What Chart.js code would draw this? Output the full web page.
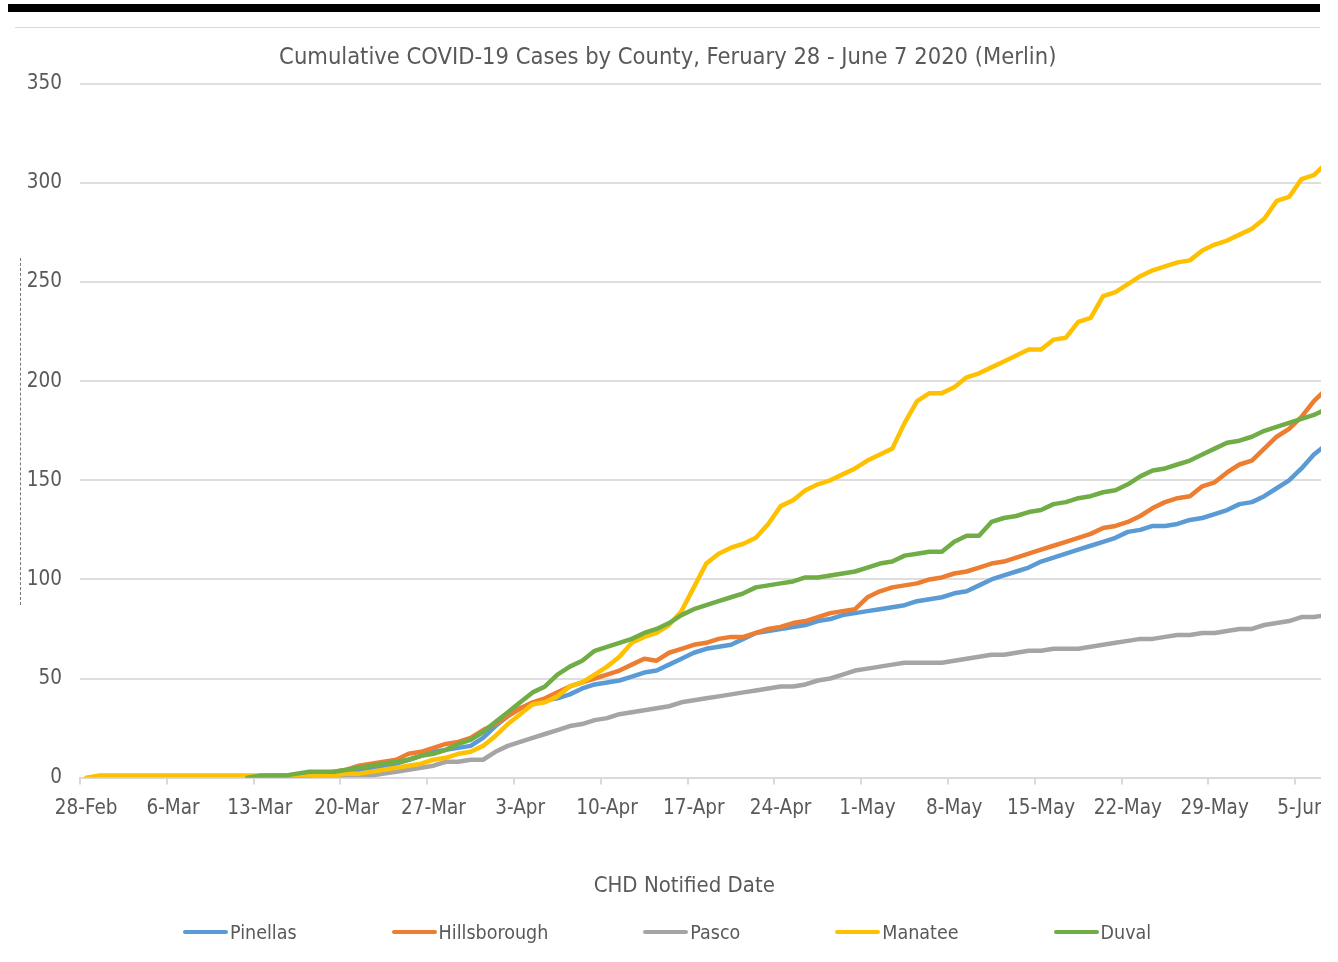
<!DOCTYPE html>
<html>
<head>
<meta charset="utf-8">
<script src="https://cdn.jsdelivr.net/npm/chart.js@4.4.1/dist/chart.umd.min.js"></script>
<style>
  html, body { margin: 0; padding: 0; background: #fff; width: 1338px; height: 962px; overflow: hidden; }
  #clip { position: absolute; left: 0; top: 0; width: 1321px; height: 962px; overflow: hidden; }
  #bar { position: absolute; left: 8px; top: 4px; width: 1312px; height: 8px; background: #000; }
  #border { position: absolute; left: 15px; top: 27px; width: 1305px; height: 1px; background: #d9d9d9; }
  #dash { position: absolute; left: 20px; top: 258px; height: 347px; border-left: 1px dashed #777; }
  #legend { position: absolute; left: 183px; top: 917px; height: 30px; display: flex; align-items: center;
            font-family: 'Liberation Sans Narrow', 'DejaVu Sans Condensed', 'Arial Narrow', sans-serif; font-size: 19.5px; color: #595959; }
  #legend .item { display: flex; align-items: center; margin-right: 95px; }
  #legend .sw { width: 45px; height: 4px; border-radius: 2px; margin-right: 2px; }
</style>
</head>
<body>
<div id="clip">
  <canvas id="c" width="1338" height="962"></canvas>
</div>
<div id="bar"></div>
<div id="border"></div>
<div id="dash"></div>
<div id="legend"></div>
<script>
const FONT = "'Liberation Sans Narrow', 'DejaVu Sans Condensed', 'Arial Narrow', sans-serif";
const TITLE = "Cumulative COVID-19 Cases by County, Feruary 28 - June 7 2020 (Merlin)";
const X_TITLE = "CHD Notified Date       ";

const dates = [
  "28-Feb","29-Feb",
  "1-Mar","2-Mar","3-Mar","4-Mar","5-Mar","6-Mar","7-Mar","8-Mar","9-Mar","10-Mar",
  "11-Mar","12-Mar","13-Mar","14-Mar","15-Mar","16-Mar","17-Mar","18-Mar","19-Mar","20-Mar",
  "21-Mar","22-Mar","23-Mar","24-Mar","25-Mar","26-Mar","27-Mar","28-Mar","29-Mar","30-Mar","31-Mar",
  "1-Apr","2-Apr","3-Apr","4-Apr","5-Apr","6-Apr","7-Apr","8-Apr","9-Apr","10-Apr",
  "11-Apr","12-Apr","13-Apr","14-Apr","15-Apr","16-Apr","17-Apr","18-Apr","19-Apr","20-Apr",
  "21-Apr","22-Apr","23-Apr","24-Apr","25-Apr","26-Apr","27-Apr","28-Apr","29-Apr","30-Apr",
  "1-May","2-May","3-May","4-May","5-May","6-May","7-May","8-May","9-May","10-May",
  "11-May","12-May","13-May","14-May","15-May","16-May","17-May","18-May","19-May","20-May",
  "21-May","22-May","23-May","24-May","25-May","26-May","27-May","28-May","29-May","30-May","31-May",
  "1-Jun","2-Jun","3-Jun","4-Jun","5-Jun","6-Jun","7-Jun"
];

const seriesNames = ["Pinellas", "Hillsborough", "Pasco", "Manatee", "Duval"];
const seriesColors = ["#5B9BD5", "#ED7D31", "#A5A5A5", "#FFC000", "#70AD47"];

const pinellas = [
  null,null,null,null,null,null,null,null,null,null,
  null,null,null,0,0,0,1,1,1,2,
  2,3,4,5,6,7,9,11,13,14,
  15,16,20,26,31,35,37,39,40,42,
  45,47,48,49,51,53,54,57,60,63,
  65,66,67,70,73,74,75,76,77,79,
  80,82,83,84,85,86,87,89,90,91,
  93,94,97,100,102,104,106,109,111,113,
  115,117,119,121,124,125,127,127,128,130,
  131,133,135,138,139,142,146,150,156,163,
  168
];
const hillsborough = [
  null,null,null,null,null,null,null,null,null,null,
  null,null,null,0,0,1,1,1,2,2,
  3,4,6,7,8,9,12,13,15,17,
  18,20,24,27,31,35,38,40,43,46,
  48,50,52,54,57,60,59,63,65,67,
  68,70,71,71,73,75,76,78,79,81,
  83,84,85,91,94,96,97,98,100,101,
  103,104,106,108,109,111,113,115,117,119,
  121,123,126,127,129,132,136,139,141,142,
  147,149,154,158,160,166,172,176,182,190,
  196
];
const pasco = [
  null,null,null,null,null,null,null,null,null,null,
  null,null,null,0,0,0,0,0,0,0,
  0,1,1,1,2,3,4,5,6,8,
  8,9,9,13,16,18,20,22,24,26,
  27,29,30,32,33,34,35,36,38,39,
  40,41,42,43,44,45,46,46,47,49,
  50,52,54,55,56,57,58,58,58,58,
  59,60,61,62,62,63,64,64,65,65,
  65,66,67,68,69,70,70,71,72,72,
  73,73,74,75,75,77,78,79,81,81,
  82
];
const manatee = [
  0,1,1,1,1,1,1,1,1,1,
  1,1,1,1,1,1,1,1,1,1,
  1,2,2,3,4,5,6,7,9,10,
  12,13,16,21,27,32,37,38,41,46,
  48,52,56,61,68,71,73,77,84,96,
  108,113,116,118,121,128,137,140,145,148,
  150,153,156,160,163,166,179,190,194,194,
  197,202,204,207,210,213,216,216,221,222,
  230,232,243,245,249,253,256,258,260,261,
  266,269,271,274,277,282,291,293,302,304,
  310
];
const duval = [
  null,null,null,null,null,null,null,null,null,null,
  null,null,null,0,1,1,1,2,3,3,
  3,4,5,6,7,8,9,11,12,14,
  17,19,23,28,33,38,43,46,52,56,
  59,64,66,68,70,73,75,78,82,85,
  87,89,91,93,96,97,98,99,101,101,
  102,103,104,106,108,109,112,113,114,114,
  119,122,122,129,131,132,134,135,138,139,
  141,142,144,145,148,152,155,156,158,160,
  163,166,169,170,172,175,177,179,181,183,
  186
];

const yTicks = [0, 50, 100, 150, 200, 250, 300, 350];

const seriesData = [pinellas, hillsborough, pasco, manatee, duval];
const drawOrder = [5, 4, 3, 2, 1];

const datasets = seriesNames.map((name, i) => ({
  label: name,
  data: seriesData[i],
  borderColor: seriesColors[i],
  backgroundColor: seriesColors[i],
  borderWidth: 4.5,
  pointRadius: 0,
  pointHoverRadius: 0,
  tension: 0,
  spanGaps: false,
  borderJoinStyle: 'round',
  borderCapStyle: 'round',
  order: drawOrder[i]
}));

new Chart(document.getElementById('c').getContext('2d'), {
  type: 'line',
  data: { labels: dates, datasets: datasets },
  options: {
    responsive: false,
    animation: false,
    events: [],
    layout: { padding: { top: 30, left: 0, right: 2.5, bottom: 63 } },
    plugins: {
      legend: { display: false },
      tooltip: { enabled: false },
      title: {
        display: true,
        text: TITLE,
        color: '#595959',
        font: { family: FONT, size: 23.5, weight: 'normal' },
        padding: { top: 14, bottom: 11.8 }
      }
    },
    scales: {
      x: {
        offset: true,
        grid: {
          offset: true,
          drawOnChartArea: false,
          drawTicks: true,
          tickLength: 7,
          lineWidth: 2,
          color: (c) => (c.index % 7 === 0) ? '#d9d9d9' : 'rgba(0,0,0,0)'
        },
        border: { display: true, color: '#d9d9d9', width: 2 },
        ticks: {
          autoSkip: false,
          maxRotation: 0,
          minRotation: 0,
          padding: 11.7,
          color: '#595959',
          font: { family: FONT, size: 20.5 },
          callback: (v, i) => (i % 7 === 0) ? dates[i] : ''
        },
        title: {
          display: true,
          text: X_TITLE,
          color: '#595959',
          font: { family: FONT, size: 22 },
          padding: { top: 40, bottom: 0 }
        }
      },
      y: {
        min: yTicks[0],
        max: yTicks[yTicks.length - 1],
        afterFit: (s) => { s.width = 80; },
        afterBuildTicks: (s) => { s.ticks = yTicks.map(v => ({ value: v })); },
        border: { display: false },
        grid: { color: '#dedede', lineWidth: 2, drawTicks: false },
        ticks: {
          padding: 18,
          color: '#595959',
          font: { family: FONT, size: 20.5 }
        }
      }
    }
  }
});

// HTML legend built from the series names/colors
const leg = document.getElementById('legend');
seriesNames.forEach((name, i) => {
  const item = document.createElement('div');
  item.className = 'item';
  const sw = document.createElement('span');
  sw.className = 'sw';
  sw.style.background = seriesColors[i];
  const tx = document.createElement('span');
  tx.textContent = name;
  item.appendChild(sw);
  item.appendChild(tx);
  leg.appendChild(item);
});
</script>
</body>
</html>
